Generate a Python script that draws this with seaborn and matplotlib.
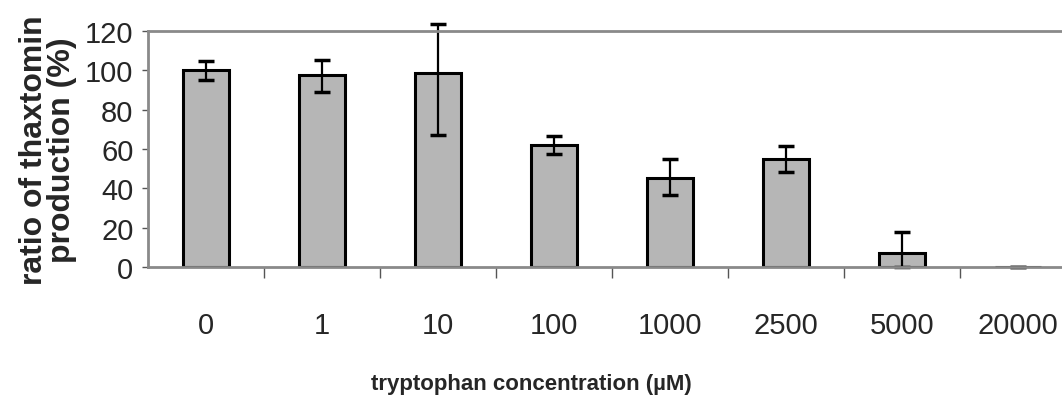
import numpy as np
import pandas as pd
import matplotlib
matplotlib.use("Agg")
import matplotlib.pyplot as plt
import seaborn as sns
from matplotlib.ticker import FixedLocator

# values
concentrations = ["0", "1", "10", "100", "1000", "2500", "5000", "20000"]
ratio = [100, 97.5, 98.5, 62, 45.5, 55, 7, 0]
err_low = [5, 8.5, 31.5, 4.5, 9, 6.5, 7, 0]
err_high = [5, 8, 25, 4.5, 9.5, 6.5, 11, 0]

sns.set_style("white")
plt.rcParams['font.family'] = ['Liberation Sans', 'DejaVu Sans']

df = pd.DataFrame({'conc': concentrations, 'ratio': ratio})

fig = plt.figure(figsize=(10.62, 4.02), dpi=100)
# axes runs past the right edge of the image, as in the original crop
ax = fig.add_axes([148 / 1062, 134 / 402, 928 / 1062, 236 / 402])

sns.barplot(data=df, x='conc', y='ratio', color='#b6b6b6', saturation=1,
            width=0.4, edgecolor='black', linewidth=2.2, ax=ax)
ax.errorbar(np.arange(len(ratio)), ratio, yerr=[err_low, err_high], fmt='none',
            ecolor='black', elinewidth=1.6, capsize=6, capthick=2.5, clip_on=False)

ax.set_xlim(-0.5, len(concentrations) - 0.5)
ax.set_ylim(0, 120)
ax.set_yticks(range(0, 121, 20))
ax.tick_params(axis='y', which='major', left=True, length=4.5, width=1, color='#555555',
               pad=6, labelsize=21)
ax.tick_params(axis='x', which='major', length=0, pad=32, labelsize=21)
ax.xaxis.set_minor_locator(FixedLocator(np.arange(0.5, len(concentrations) - 0.5, 1)))
ax.tick_params(axis='x', which='minor', bottom=True, length=8, width=1, color='#555555')

for side in ['top', 'bottom', 'left']:
    ax.spines[side].set_color('#8a8a8a')
    ax.spines[side].set_linewidth(2)
ax.spines['right'].set_visible(False)

ax.set_xlabel('tryptophan concentration (µM)', fontsize=16, fontweight='bold', labelpad=24)
# centre the x label on the visible image rather than the (clipped) axes
ax.xaxis.label.set_x((531 - 148) / 928)
ax.set_ylabel('ratio of thaxtomin\nproduction (%)', fontsize=23, fontweight='bold',
              labelpad=6, linespacing=0.9)

fig.savefig('out.png', dpi=100)
